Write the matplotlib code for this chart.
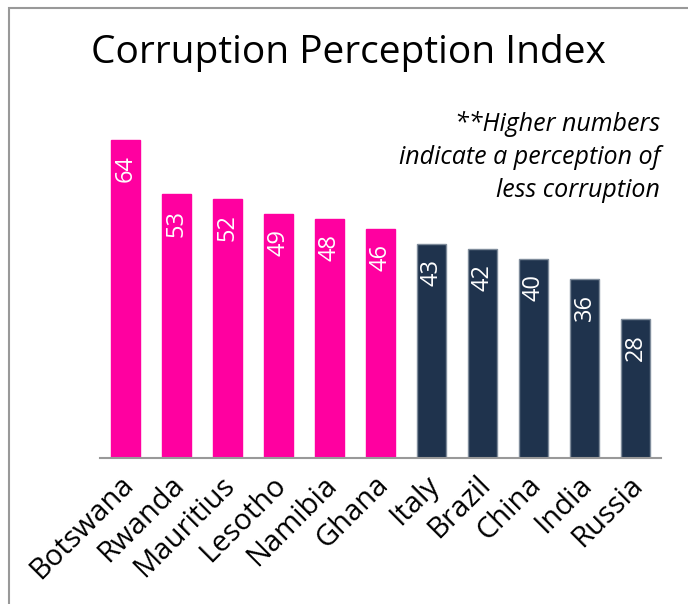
import matplotlib
matplotlib.use("Agg")
import matplotlib.pyplot as plt
import matplotlib.transforms as mtransforms
from matplotlib.patches import Rectangle

# Datos del gráfico
countries = ["Botswana", "Rwanda", "Mauritius", "Lesotho", "Namibia", "Ghana",
             "Italy", "Brazil", "China", "India", "Russia"]
scores = [64, 53, 52, 49, 48, 46, 43, 42, 40, 36, 28]
groups = ["africa"] * 6 + ["other"] * 5

PINK = "#FF00A0"
NAVY = "#1F334D"
group_colors = {"africa": PINK, "other": NAVY}
group_edges = {"africa": PINK, "other": "#7F8C9B"}

plt.rcParams["font.family"] = ["Open Sans", "DejaVu Sans"]

fig = plt.figure(figsize=(6.88, 6.04), dpi=100)
ax = fig.add_axes([100 / 688, 146 / 604, 561 / 688, 418 / 604])

x = range(len(countries))
bars = ax.bar(
    x,
    scores,
    width=0.57,
    color=[group_colors[g] for g in groups],
    edgecolor=[group_edges[g] for g in groups],
    linewidth=1,
    zorder=2,
)

# Valores dentro das barras
for bar, val in zip(bars, scores):
    ax.annotate(
        f"{val}",
        xy=(bar.get_x() + bar.get_width() / 2, bar.get_height()),
        xytext=(0, -11),
        textcoords="offset points",
        rotation=90,
        ha="center",
        va="top",
        color="white",
        fontsize=17,
    )

ax.set_xlim(-0.5, len(countries) - 0.5)
ax.set_ylim(0, 84)
ax.set_xticks(list(x))
ax.set_xticklabels(countries, rotation=45, ha="right", rotation_mode="anchor", fontsize=21)
ax.tick_params(axis="x", length=0, pad=9)
shift = mtransforms.ScaledTranslation(-7 / 100, 0, fig.dpi_scale_trans)
for lbl in ax.get_xticklabels():
    lbl.set_transform(lbl.get_transform() + shift)
ax.set_yticks([])
for side in ["top", "right", "left"]:
    ax.spines[side].set_visible(False)
ax.spines["bottom"].set_color("#999999")
ax.spines["bottom"].set_linewidth(1.5)

fig.text(0.506, 0.912, "Corruption Perception Index", ha="center", va="center", fontsize=28)
fig.text(
    660 / 688,
    1 - 157 / 604,
    "**Higher numbers\nindicate a perception of\nless corruption",
    ha="right",
    va="center",
    style="italic",
    fontsize=18,
    linespacing=1.42,
)

# Moldura cinza
fig.add_artist(
    Rectangle(
        (8.5 / 688, -0.1),
        1.2,
        1.1 - 7.5 / 604,
        transform=fig.transFigure,
        fill=False,
        edgecolor="#999999",
        linewidth=1.5,
    )
)

fig.savefig("out.png", dpi=100)
